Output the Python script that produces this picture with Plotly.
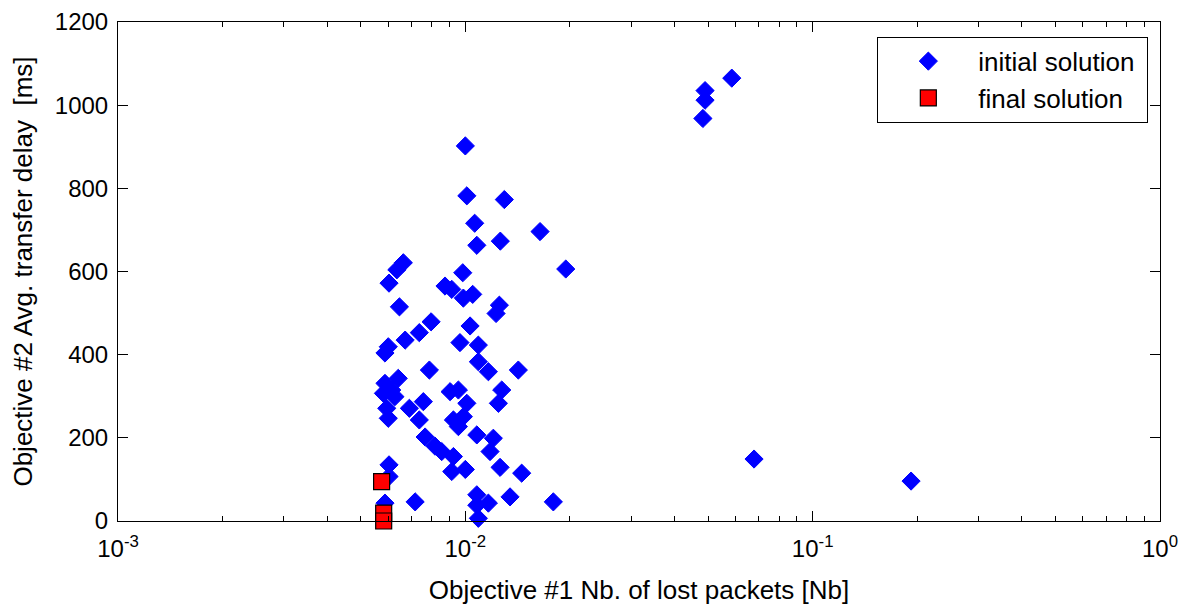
import plotly.graph_objects as go

# Objective #1: number of lost packets [Nb]  (log scale)
init_lost = [
    0.0490, 0.0490, 0.0483, 0.0585, 0.0678, 0.192,
    0.0100, 0.0101, 0.01295, 0.01064, 0.01641, 0.01079, 0.01261, 0.01946,
    0.00663, 0.00635, 0.00603, 0.00983, 0.00874, 0.00914, 0.00987, 0.0105,
    0.00646, 0.01253, 0.01226, 0.00797, 0.00737, 0.01032, 0.00671, 0.0060,
    0.00587, 0.00965, 0.0109, 0.00788, 0.0109, 0.01165, 0.01421, 0.00641,
    0.00587, 0.00581, 0.00614, 0.00627, 0.00594, 0.0060, 0.0069, 0.00757,
    0.00737, 0.00904, 0.00955, 0.0101, 0.00924, 0.00987, 0.00955, 0.01273,
    0.01245, 0.01079, 0.01204, 0.00766, 0.00818, 0.00855, 0.00924, 0.00914,
    0.0100, 0.01178, 0.01259, 0.01453, 0.00603, 0.00603, 0.00587, 0.00717,
    0.01079, 0.01079, 0.01165, 0.0109, 0.01345, 0.01792,
]
# Objective #2: average transfer delay [ms]
init_delay = [
    1035, 1012, 968, 1065, 149, 96,
    902, 782, 773, 716, 696, 663, 673, 606,
    621, 604, 572, 597, 565, 557, 536, 545,
    515, 519, 499, 479, 453, 469, 435, 419,
    404, 429, 423, 363, 383, 359, 363, 343,
    331, 307, 315, 299, 271, 247, 271, 287,
    243, 311, 315, 283, 243, 251, 227, 315,
    283, 207, 199, 202, 180, 167, 155, 119,
    124, 167, 129, 115, 135, 107, 43, 46,
    63, 38, 43, 6.5, 58, 46,
]

final_lost = [0.00574, 0.00582, 0.00582]
final_delay = [94.5, 19, 0]

x_tick_vals = [0.001, 0.01, 0.1, 1]
x_tick_text = ["10<sup>-3</sup>", "10<sup>-2</sup>", "10<sup>-1</sup>", "10<sup>0</sup>"]
x_minor_vals = [m * d for d in (0.001, 0.01, 0.1) for m in range(2, 10)]

FONT = "Liberation Sans, Arial, sans-serif"
NBSP = "\u00a0"

fig = go.Figure()
fig.add_trace(go.Scatter(
    x=init_lost, y=init_delay, mode="markers", name="initial solution" + NBSP,
    cliponaxis=False,
    marker=dict(symbol="diamond", size=14, color="#0000FF",
                line=dict(color="#0000FF", width=1)),
))
fig.add_trace(go.Scatter(
    x=final_lost, y=final_delay, mode="markers", name="final solution",
    cliponaxis=False,
    marker=dict(symbol="square", size=16, color="#FF0000",
                line=dict(color="#000000", width=1.2)),
))

axis_common = dict(
    automargin=False,
    showline=True, linecolor="black", linewidth=1, mirror="allticks",
    ticks="inside", ticklen=10, tickwidth=1, tickcolor="black",
    showgrid=False, zeroline=False,
    tickfont=dict(family=FONT, size=24, color="black"),
)

# page body has an 8px default margin, so the figure is sized to fit the window
fig.update_layout(
    width=1182, height=597,
    margin=dict(l=110, r=30, t=14, b=84, autoexpand=False),
    paper_bgcolor="white", plot_bgcolor="white",
    font=dict(family=FONT, size=24, color="black"),
    xaxis=dict(
        type="log", range=[-3, 0],
        tickmode="array", tickvals=x_tick_vals, ticktext=x_tick_text,
        ticklabelstandoff=6,
        minor=dict(tickmode="array", tickvals=x_minor_vals, ticks="inside",
                   ticklen=5, tickcolor="black", tickwidth=1, showgrid=False),
        title=dict(text="Objective #1 Nb. of lost packets [Nb]",
                   font=dict(family=FONT, size=26), standoff=27),
        **axis_common,
    ),
    yaxis=dict(
        range=[0, 1200], tickmode="linear", tick0=0, dtick=200,
        ticklabelstandoff=4,
        title=dict(text="Objective #2 Avg. transfer delay  [ms]",
                   font=dict(family=FONT, size=26), standoff=14),
        **axis_common,
    ),
    legend=dict(
        x=0.9888, y=0.9705, xanchor="right", yanchor="top",
        bgcolor="white", bordercolor="black", borderwidth=1,
        font=dict(family=FONT, size=26, color="black"),
        itemwidth=90,
    ),
)

fig.write_html("out.html")
